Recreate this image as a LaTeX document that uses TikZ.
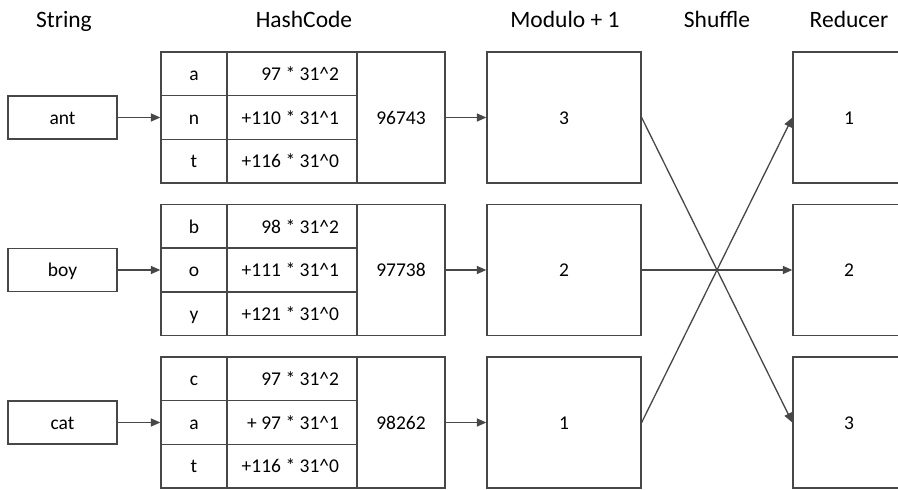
\documentclass[tikz,border=0pt]{standalone}
\usepackage{fontspec}
\setmainfont{Carlito}
\usetikzlibrary{arrows.meta}
\definecolor{ln}{HTML}{474747}
\newcommand{\frml}[1]{\makebox[94pt][r]{#1}}
\begin{document}
\begin{tikzpicture}[x=1pt,y=-1pt,
  txt/.style={font=\fontsize{19.5}{23}\selectfont, text height=18.6pt, text depth=5.2pt, inner sep=0pt},
  cell/.style={txt, draw=ln, line width=1.3pt, minimum height=43.67pt, align=center},
  strbox/.style={cell, minimum width=109pt, minimum height=43pt},
  letter/.style={cell, minimum width=66pt},
  formula/.style={cell, minimum width=130pt},
  number/.style={cell, minimum width=88pt, minimum height=131pt},
  modbox/.style={cell, minimum width=154pt, minimum height=131pt},
  redbox/.style={cell, minimum width=112pt, minimum height=131pt},
  title/.style={font=\fontsize{23.5}{28}\selectfont, inner sep=0pt, anchor=base},
  conn/.style={draw=ln, line width=1.3pt, -{Triangle[length=9.5pt,width=8pt]}}
]
\useasboundingbox (0,0) rectangle (898,490);
\clip (0,0) rectangle (898,490);
\fill[white] (0,0) rectangle (898,490);

% titles
\node[title] (tstr) at (64,27) {String};
\node[title] (thash) at (304,27) {HashCode};
\node[title] (tmod) at (565,27) {Modulo + 1};
\node[title] (tshuf) at (717,27) {Shuffle};
\node[title] (tred) at (849,27) {Reducer};

% group 1
\node[strbox] (s1) at (62.5,117.5) {ant};
\node[letter] (l11) at (194,73.8) {a};
\node[letter] (l12) at (194,117.5) {n};
\node[letter] (l13) at (194,161.2) {t};
\node[formula] (f11) at (292,73.8) {\frml{97 * 31\^{}2}};
\node[formula] (f12) at (292,117.5) {\frml{+110 * 31\^{}1}};
\node[formula] (f13) at (292,161.2) {\frml{+116 * 31\^{}0}};
\node[number] (n1) at (401,117.5) {96743};
\node[modbox] (m1) at (564,117.5) {3};
\node[redbox] (r1) at (849,117.5) {1};

% group 2
\node[strbox] (s2) at (62.5,270) {boy};
\node[letter] (l21) at (194,226.3) {b};
\node[letter] (l22) at (194,270) {o};
\node[letter] (l23) at (194,313.7) {y};
\node[formula] (f21) at (292,226.3) {\frml{98 * 31\^{}2}};
\node[formula] (f22) at (292,270) {\frml{+111 * 31\^{}1}};
\node[formula] (f23) at (292,313.7) {\frml{+121 * 31\^{}0}};
\node[number] (n2) at (401,270) {97738};
\node[modbox] (m2) at (564,270) {2};
\node[redbox] (r2) at (849,270) {2};

% group 3
\node[strbox] (s3) at (62.5,422.5) {cat};
\node[letter] (l31) at (194,378.8) {c};
\node[letter] (l32) at (194,422.5) {a};
\node[letter] (l33) at (194,466.2) {t};
\node[formula] (f31) at (292,378.8) {\frml{97 * 31\^{}2}};
\node[formula] (f32) at (292,422.5) {\frml{+ 97 * 31\^{}1}};
\node[formula] (f33) at (292,466.2) {\frml{+116 * 31\^{}0}};
\node[number] (n3) at (401,422.5) {98262};
\node[modbox] (m3) at (564,422.5) {1};
\node[redbox] (r3) at (849,422.5) {3};

% connectors
\draw[conn] (s1.east) -- (l12.west);
\draw[conn] (s2.east) -- (l22.west);
\draw[conn] (s3.east) -- (l32.west);
\draw[conn] (n1.east) -- (m1.west);
\draw[conn] (n2.east) -- (m2.west);
\draw[conn] (n3.east) -- (m3.west);
\draw[conn] (m1.east) -- (r3.west);
\draw[conn] (m2.east) -- (r2.west);
\draw[conn] (m3.east) -- (r1.west);
\end{tikzpicture}
\end{document}
